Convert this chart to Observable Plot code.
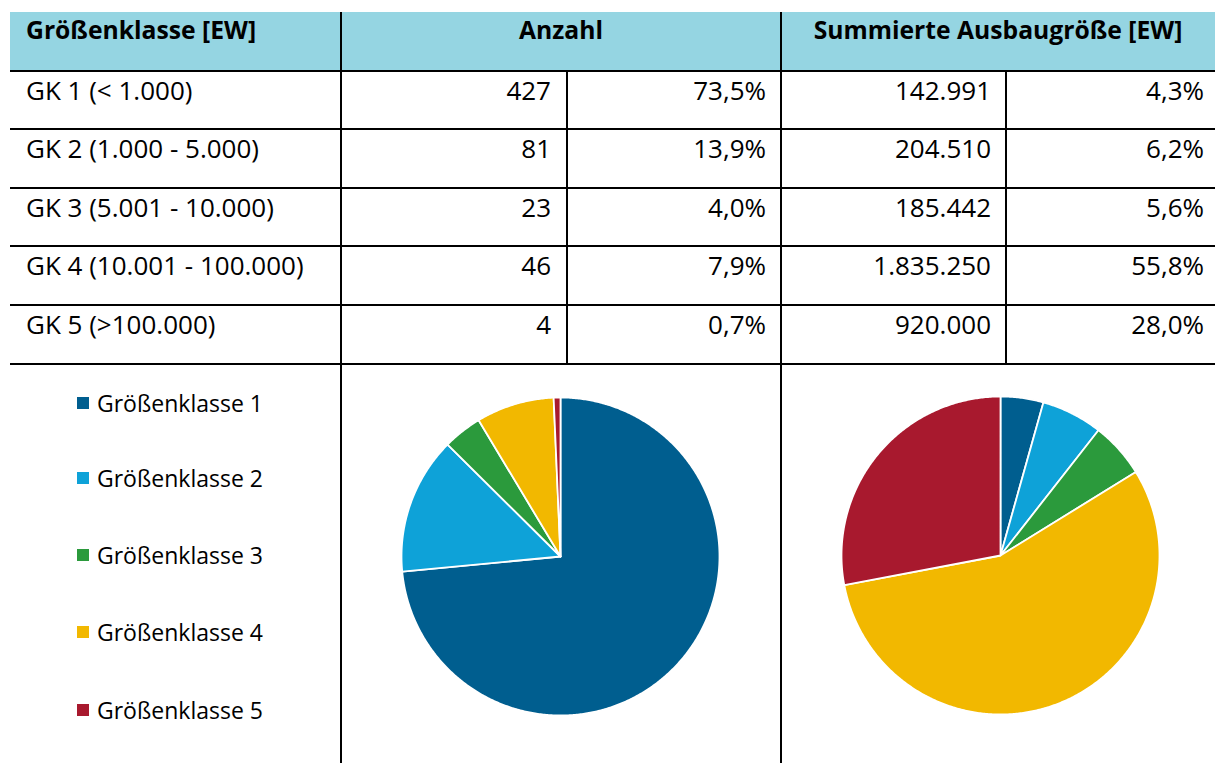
<!DOCTYPE html>
<html><head><meta charset="utf-8">
<script src="https://cdn.jsdelivr.net/npm/d3@7"></script>
<script src="https://cdn.jsdelivr.net/npm/@observablehq/plot@0.6"></script>
<style>
body{margin:0;width:1215px;height:763px;position:relative;background:#fff;font-family:"Open Sans",sans-serif;color:#000;overflow:hidden}
.hl{position:absolute;height:2px;background:#000}
.vl{position:absolute;width:2px;background:#000}
.cell{position:absolute;font-size:26px;line-height:34px;white-space:nowrap}
.leg{position:absolute;font-size:23px;line-height:34px;white-space:nowrap}
.hdr{position:absolute;font-weight:bold;font-size:24.7px;line-height:30px;white-space:nowrap}
.sw{position:absolute;width:12px;height:12px}
.pie{position:absolute}
</style></head><body>
<script>
// ---- data ----
const headers = ["Größenklasse [EW]", "Anzahl", "Summierte Ausbaugröße [EW]"];
const rowLabels = ["GK 1 (< 1.000)", "GK 2 (1.000 - 5.000)", "GK 3 (5.001 - 10.000)", "GK 4 (10.001 - 100.000)", "GK 5 (>100.000)"];
const counts = [427, 81, 23, 46, 4];
const countPct = [73.5, 13.9, 4.0, 7.9, 0.7];
const sums = [142991, 204510, 185442, 1835250, 920000];
const sumPct = [4.3, 6.2, 5.6, 55.8, 28.0];
const classes = ["Größenklasse 1", "Größenklasse 2", "Größenklasse 3", "Größenklasse 4", "Größenklasse 5"];
const colors = ["#005e8f", "#0ea2d8", "#2b9a3c", "#f2b800", "#a8192e"];

// ---- formatting ----
const de = d3.formatLocale({decimal: ",", thousands: ".", grouping: [3], currency: ["", "€"]});
const fInt = de.format(",d");
const fPct = v => de.format(".1f")(v) + "%";

// ---- layout ----
const colX = [10, 341, 567, 781, 1006, 1215];
const top0 = 12, headBottom = 70.5, rowH = 58.6;
const lineYs = d3.range(6).map(i => headBottom + i * rowH);
const body = document.body;
function el(cls, style, text) {
  const d = document.createElement("div");
  d.className = cls;
  Object.assign(d.style, style);
  if (text != null) d.textContent = text;
  body.appendChild(d);
  return d;
}
// header background
el("", {position: "absolute", left: colX[0] + "px", top: top0 + "px", width: (colX[5] - colX[0]) + "px", height: (headBottom - top0) + "px", background: "#95d5e2"});
// header texts
el("hdr", {left: "26px", top: "15px"}, headers[0]);
el("hdr", {left: colX[1] + "px", width: (colX[3] - colX[1]) + "px", textAlign: "center", top: "15px"}, headers[1]);
el("hdr", {left: colX[3] + "px", width: (colX[5] - colX[3]) + "px", textAlign: "center", top: "15px"}, headers[2]);
// rows
const rightPad = [16, 15, 15, 11];
rowLabels.forEach((lab, i) => {
  const t = lineYs[i] + 2;
  el("cell", {left: "26px", top: t + "px"}, lab);
  const vals = [fInt(counts[i]), fPct(countPct[i]), fInt(sums[i]), fPct(sumPct[i])];
  vals.forEach((v, j) => {
    el("cell", {right: (1215 - colX[j + 2] + rightPad[j]) + "px", top: t + "px", textAlign: "right"}, v);
  });
});
// grid lines
lineYs.forEach(y => el("hl", {left: colX[0] + "px", width: (colX[5] - colX[0]) + "px", top: (y - 1) + "px"}));
[colX[1], colX[3]].forEach(x => el("vl", {left: (x - 1) + "px", top: top0 + "px", height: (763 - top0) + "px"}));
[colX[2], colX[4]].forEach(x => el("vl", {left: (x - 1) + "px", top: headBottom + "px", height: (lineYs[5] - headBottom) + "px"}));
// legend
const legYs = [403, 478, 555, 632, 710];
classes.forEach((c, i) => {
  el("sw", {left: "77px", top: (legYs[i] - 6) + "px", background: colors[i]});
  el("leg", {left: "97px", top: (legYs[i] - 17.5) + "px"}, c);
});

// ---- pies ----
function slices(values) {
  const total = d3.sum(values);
  const pts = [];
  let acc = 0;
  values.forEach((v, i) => {
    const a0 = acc / total * 2 * Math.PI, a1 = (acc + v) / total * 2 * Math.PI;
    acc += v;
    const n = Math.max(2, Math.ceil((a1 - a0) / (Math.PI / 360)));
    pts.push({cls: classes[i], x: 0, y: 0});
    for (let k = 0; k <= n; k++) {
      const a = a0 + (a1 - a0) * k / n;
      pts.push({cls: classes[i], x: Math.sin(a), y: Math.cos(a)});
    }
    pts.push({cls: classes[i], x: 0, y: 0});
  });
  return pts;
}
function pie(values, cx, cy) {
  const r = 159;
  const svg = Plot.plot({
    width: 2 * r + 2, height: 2 * r + 2, margin: 1,
    style: {background: "transparent", overflow: "visible"},
    x: {domain: [-1, 1], axis: null},
    y: {domain: [-1, 1], axis: null},
    color: {domain: classes, range: colors},
    marks: [
      Plot.line(slices(values), {x: "x", y: "y", z: "cls", fill: "cls", stroke: "white", strokeWidth: 1.8, strokeLinejoin: "round"})
    ]
  });
  const wrap = document.createElement("div");
  wrap.className = "pie";
  wrap.style.left = (cx - r - 1) + "px";
  wrap.style.top = (cy - r - 1) + "px";
  wrap.appendChild(svg);
  body.appendChild(wrap);
}
pie(counts, 560, 556);
pie(sums, 1000, 555);
</script>
</body></html>
